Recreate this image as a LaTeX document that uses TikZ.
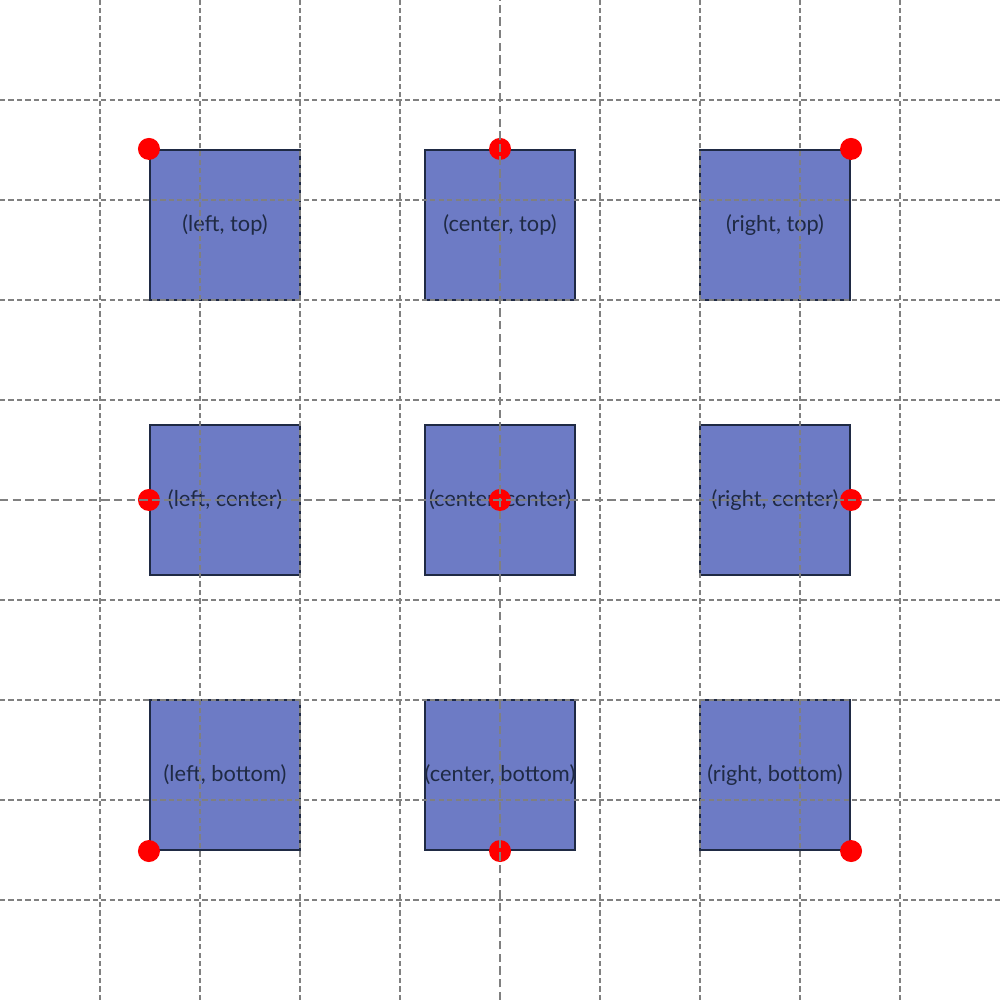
\documentclass[tikz,border=0pt]{standalone}
\usepackage{fontspec}
\setmainfont{Lato}
\begin{document}
\begin{tikzpicture}[x=1cm,y=1cm,
  boxsq/.style={draw=boxline, fill=boxfill, line width=0.6pt, minimum width=1.5cm, minimum height=1.5cm, inner sep=0pt, text=boxline, font=\fontsize{6.2pt}{7pt}\selectfont},
  gridln/.style={draw=gridgray, line width=0.3pt, dash pattern=on 1.5pt off 0.9pt},
  axisln/.style={draw=gridgray, line width=0.8pt, dash pattern=on 2.4pt off 1.2pt},
  dotpt/.style={circle, fill=red, inner sep=0pt, minimum size=0.22cm}]
\definecolor{boxfill}{HTML}{6D7BC5}
\definecolor{boxline}{HTML}{1F2A44}
\definecolor{gridgray}{HTML}{808080}
\useasboundingbox (0,0) rectangle (10,10);
\fill[white] (0,0) rectangle (10,10);
% boxes
\node[boxsq] (lt) at (2.25,7.75) {(left, top)};
\node[boxsq] (ct) at (5,7.75) {(center, top)};
\node[boxsq] (rt) at (7.75,7.75) {(right, top)};
\node[boxsq] (lc) at (2.25,5) {(left, center)};
\node[boxsq] (cc) at (5,5) {(center, center)};
\node[boxsq] (rc) at (7.75,5) {(right, center)};
\node[boxsq] (lb) at (2.25,2.25) {(left, bottom)};
\node[boxsq] (cb) at (5,2.25) {(center, bottom)};
\node[boxsq] (rb) at (7.75,2.25) {(right, bottom)};
% dots
\node[dotpt] (dlt) at (lt.north west) {};
\node[dotpt] (dct) at (ct.north) {};
\node[dotpt] (drt) at (rt.north east) {};
\node[dotpt] (dlc) at (lc.west) {};
\node[dotpt] (dcc) at (cc.center) {};
\node[dotpt] (drc) at (rc.east) {};
\node[dotpt] (dlb) at (lb.south west) {};
\node[dotpt] (dcb) at (cb.south) {};
\node[dotpt] (drb) at (rb.south east) {};
% grid
\foreach \i in {1,2,3,4,6,7,8,9} {
  \draw[gridln] (\i,0) -- (\i,10);
  \draw[gridln] (0,\i) -- (10,\i);
}
\draw[axisln] (5,0) -- (5,10);
\draw[axisln] (0,5) -- (10,5);
\end{tikzpicture}
\end{document}
